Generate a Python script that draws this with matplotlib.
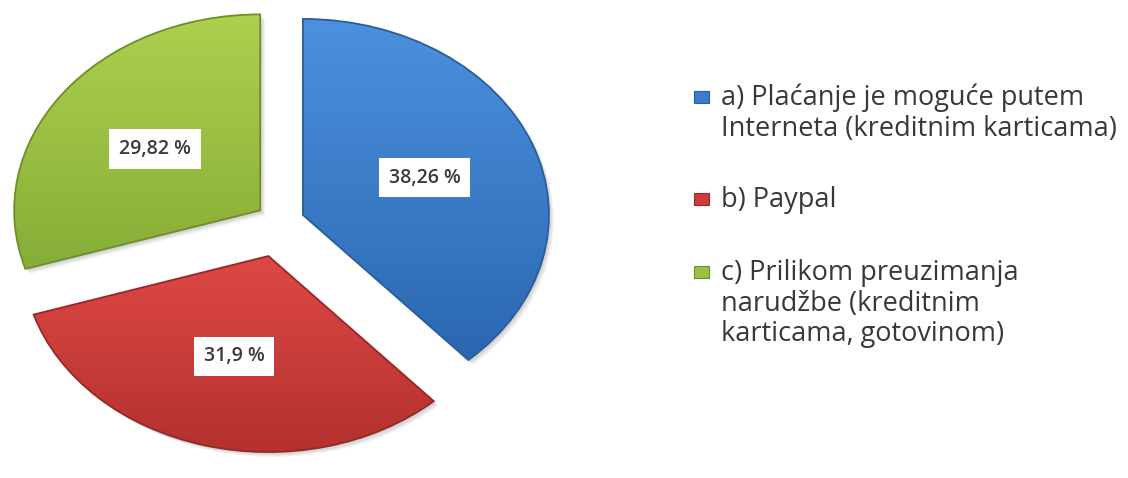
import numpy as np
import matplotlib.pyplot as plt
from matplotlib.colors import LinearSegmentedColormap
from matplotlib.patches import PathPatch, Rectangle
from matplotlib.transforms import Affine2D

# data
shares = [38.26, 31.9, 29.82]
pct_text = ['38,26 %', '31,9 %', '29,82 %']
legend_labels = ['a) Plaćanje je moguće putem\nInterneta (kreditnim karticama)',
                 'b) Paypal',
                 'c) Prilikom preuzimanja\nnarudžbe (kreditnim\nkarticama, gotovinom)']

# excel-ish gradient colours (top -> bottom) and edges
base_colors = ['#3b7dcc', '#cc3d3a', '#9cc043']
top_colors = ['#4c91de', '#de4845', '#add04e']
bottom_colors = ['#2b67b0', '#b3312f', '#86ad37']
edge_colors = ['#2a5d9c', '#962927', '#6d8e2b']
explode = [0.1, 0.18, 0.1]

W, H = 1128, 478
plt.rcParams['font.family'] = ['Open Sans', 'DejaVu Sans']

fig = plt.figure(figsize=(W / 100, H / 100), dpi=100)
ax = fig.add_axes([0, 0, 1, 1])

wedges, texts, autotexts = ax.pie(shares, explode=explode, startangle=90, counterclock=False,
                                  colors=base_colors, autopct=lambda p: '', pctdistance=0.53,
                                  wedgeprops=dict(linewidth=0))

# stretch the pie into an ellipse like the original (246 px wide radius, 196 px tall)
ax.set_aspect('auto')
xl = (-280 / 246, (W - 280) / 246)
yl = (-256 / 196, 222 / 196)
ax.set_xlim(*xl)
ax.set_ylim(*yl)
ax.axis('off')

grad = np.linspace(0, 1, 256).reshape(-1, 1)
for w, c0, c1, ec in zip(wedges, top_colors, bottom_colors, edge_colors):
    path = w.get_path()
    ext = path.get_extents()

    # soft shadow below right
    for k in range(1, 6):
        sh = PathPatch(path, facecolor='#000000', edgecolor='none', alpha=0.035,
                       transform=ax.transData + Affine2D().translate(1.0 + 0.8 * k, -1.0 - 0.8 * k),
                       zorder=0.5)
        ax.add_patch(sh)

    cmap = LinearSegmentedColormap.from_list('g', [c1, c0])
    im = ax.imshow(grad, cmap=cmap, extent=(ext.x0, ext.x1, ext.y0, ext.y1), origin='lower',
                   aspect='auto', interpolation='bicubic', zorder=1.5)
    im.set_clip_path(w)
    ax.add_patch(PathPatch(path, facecolor='none', edgecolor=ec, linewidth=1.3, zorder=1.8))

ax.set_xlim(*xl)
ax.set_ylim(*yl)

for t, s in zip(autotexts, pct_text):
    t.set_text(s)
    t.set_fontsize(14)
    t.set_fontweight('semibold')
    t.set_color('#3a3a3a')
    t.set_zorder(3)
    t.set_bbox(dict(boxstyle='square,pad=0.5', facecolor='white', edgecolor='none'))

# legend drawn by hand so the marker sits on the first line of each entry
line_h = 29
gap = 44
y = 97
for w, lab, ec in zip(wedges, legend_labels, edge_colors):
    fig.add_artist(Rectangle((694 / W, (H - y - 6) / H), 15 / W, 12 / H,
                             facecolor=w.get_facecolor(), edgecolor=ec, linewidth=0.8,
                             transform=fig.transFigure))
    fig.text(721 / W, (H - y + 13) / H, lab, fontsize=19.5, color='#383838', va='top',
             linespacing=1.13, transform=fig.transFigure)
    nlines = lab.count('\n') + 1
    y += nlines * line_h + gap

fig.savefig('out.png', dpi=100, facecolor='white')
